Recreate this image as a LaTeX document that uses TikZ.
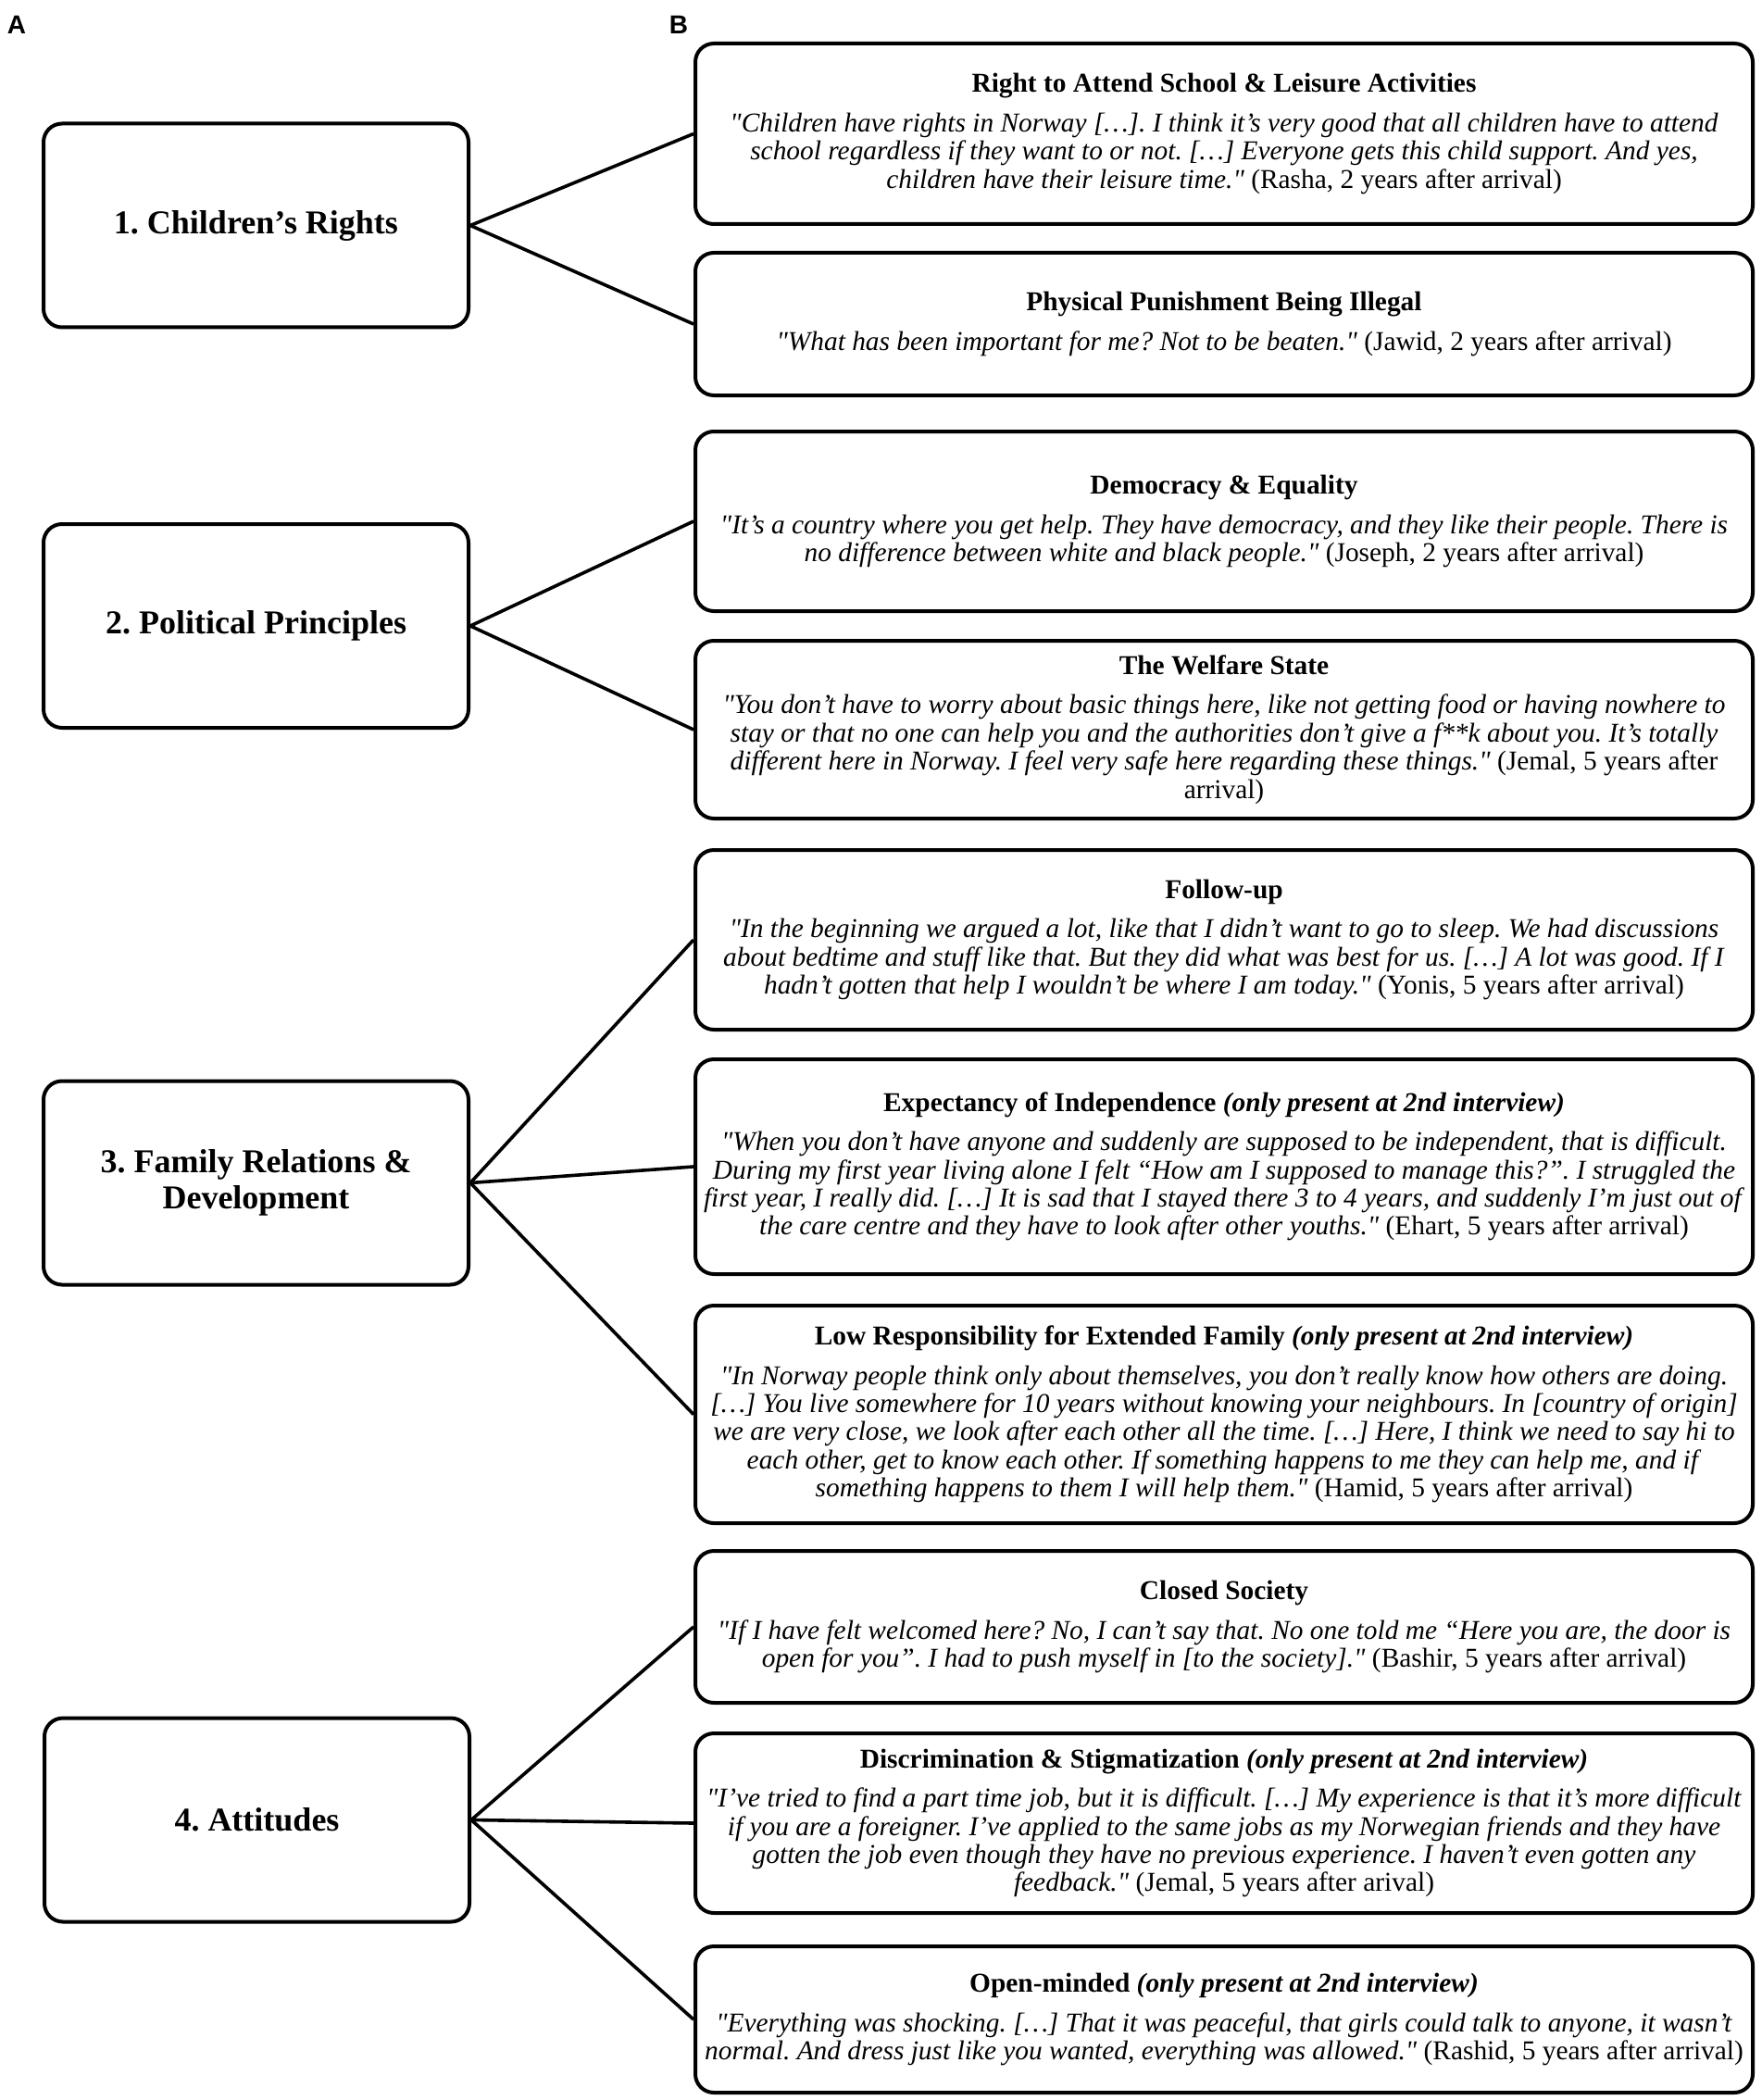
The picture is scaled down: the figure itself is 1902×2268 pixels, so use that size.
\documentclass[tikz,border=0pt]{standalone}
\usepackage{fontspec}
\setmainfont{Liberation Serif}[Ligatures=TeXOff]
\newfontfamily\labelfont{Liberation Sans}
\frenchspacing
\begin{document}
\begin{tikzpicture}[x=0.5pt,y=-0.5pt,
  lbox/.style={draw, line width=2pt, rounded corners=10pt, minimum width=229.5pt, minimum height=110pt, inner sep=2pt, align=center, font=\fontsize{18}{19.5}\selectfont\bfseries},
  rbox/.style={draw, line width=2pt, rounded corners=10pt, minimum width=571pt, inner sep=2pt, align=center, font=\fontsize{14.7}{15.2}\selectfont},
  conn/.style={line width=1.8pt},
  panel/.style={font=\labelfont\bfseries\fontsize{14}{16}\selectfont, inner sep=0pt}]
\useasboundingbox (0,0) rectangle (1902,2268);

\node[panel] (A) at (18,27) {A};
\node[panel] (B) at (733,27) {B};

% left boxes
\node[lbox] (L1) at (276.5,243.5) {1. Children’s Rights};
\node[lbox] (L2) at (276.5,676) {2. Political Principles};
\node[lbox] (L3) at (276.5,1277.5) {3. Family Relations \&\\Development};
\node[lbox] (L4) at (277.5,1965.5) {4. Attitudes};

% right boxes
\node[rbox, minimum height=97.5pt] (R1) at (1322,144.5) {\textbf{Right to Attend School \& Leisure Activities}\\[6pt]
\textit{"Children have rights in Norway […]. I think it’s very good that all children have to attend}\\
\textit{school regardless if they want to or not. […] Everyone gets this child support. And yes,}\\
\textit{children have their leisure time."} (Rasha, 2 years after arrival)};

\node[rbox, minimum height=77pt] (R2) at (1322,350) {\textbf{Physical Punishment Being Illegal}\\[6pt]
\textit{"What has been important for me? Not to be beaten."} (Jawid, 2 years after arrival)};

\node[rbox, minimum height=97pt] (R3) at (1322,563) {\textbf{Democracy \& Equality}\\[6pt]
\textit{"It’s a country where you get help. They have democracy, and they like their people. There is}\\
\textit{no difference between white and black people."} (Joseph, 2 years after arrival)};

\node[rbox, minimum height=96pt] (R4) at (1322,788) {\textbf{The Welfare State}\\[6pt]
\textit{"You don’t have to worry about basic things here, like not getting food or having nowhere to}\\
\textit{stay or that no one can help you and the authorities don’t give a f**k about you. It’s totally}\\
\textit{different here in Norway. I feel very safe here regarding these things."} (Jemal, 5 years after\\
arrival)};

\node[rbox, minimum height=97pt] (R5) at (1322,1015) {\textbf{Follow-up}\\[6pt]
\textit{"In the beginning we argued a lot, like that I didn’t want to go to sleep. We had discussions}\\
\textit{about bedtime and stuff like that. But they did what was best for us. […] A lot was good. If I}\\
\textit{hadn’t gotten that help I wouldn’t be where I am today."} (Yonis, 5 years after arrival)};

\node[rbox, minimum height=116pt] (R6) at (1322,1260) {\textbf{Expectancy of Independence \textit{(only present at 2nd interview)}}\\[6pt]
\textit{"When you don’t have anyone and suddenly are supposed to be independent, that is difficult.}\\
\textit{During my first year living alone I felt “How am I supposed to manage this?”. I struggled the}\\
\textit{first year, I really did. […] It is sad that I stayed there 3 to 4 years, and suddenly I’m just out of}\\
\textit{the care centre and they have to look after other youths."} (Ehart, 5 years after arrival)};

\node[rbox, minimum height=117.5pt] (R7) at (1322,1527.5) {\textbf{Low Responsibility for Extended Family \textit{(only present at 2nd interview)}}\\[6pt]
\textit{"In Norway people think only about themselves, you don’t really know how others are doing.}\\
\textit{[…] You live somewhere for 10 years without knowing your neighbours. In [country of origin]}\\
\textit{we are very close, we look after each other all the time. […] Here, I think we need to say hi to}\\
\textit{each other, get to know each other. If something happens to me they can help me, and if}\\
\textit{something happens to them I will help them."} (Hamid, 5 years after arrival)};

\node[rbox, minimum height=82pt] (R8) at (1322,1757) {\textbf{Closed Society}\\[6pt]
\textit{"If I have felt welcomed here? No, I can’t say that. No one told me “Here you are, the door is}\\
\textit{open for you”. I had to push myself in [to the society]."} (Bashir, 5 years after arrival)};

\node[rbox, minimum height=97pt] (R9) at (1322,1969) {\textbf{Discrimination \& Stigmatization \textit{(only present at 2nd interview)}}\\[6pt]
\textit{"I’ve tried to find a part time job, but it is difficult. […] My experience is that it’s more difficult}\\
\textit{if you are a foreigner. I’ve applied to the same jobs as my Norwegian friends and they have}\\
\textit{gotten the job even though they have no previous experience. I haven’t even gotten any}\\
\textit{feedback."} (Jemal, 5 years after arival)};

\node[rbox, minimum height=79pt] (R10) at (1322,2181) {\textbf{Open-minded \textit{(only present at 2nd interview)}}\\[6pt]
\textit{"Everything was shocking. […] That it was peaceful, that girls could talk to anyone, it wasn’t}\\
\textit{normal. And dress just like you wanted, everything was allowed."} (Rashid, 5 years after arrival)};

% connectors
\draw[conn] (L1.east) -- (R1.west);
\draw[conn] (L1.east) -- (R2.west);
\draw[conn] (L2.east) -- (R3.west);
\draw[conn] (L2.east) -- (R4.west);
\draw[conn] (L3.east) -- (R5.west);
\draw[conn] (L3.east) -- (R6.west);
\draw[conn] (L3.east) -- (R7.west);
\draw[conn] (L4.east) -- (R8.west);
\draw[conn] (L4.east) -- (R9.west);
\draw[conn] (L4.east) -- (R10.west);
\end{tikzpicture}
\end{document}
